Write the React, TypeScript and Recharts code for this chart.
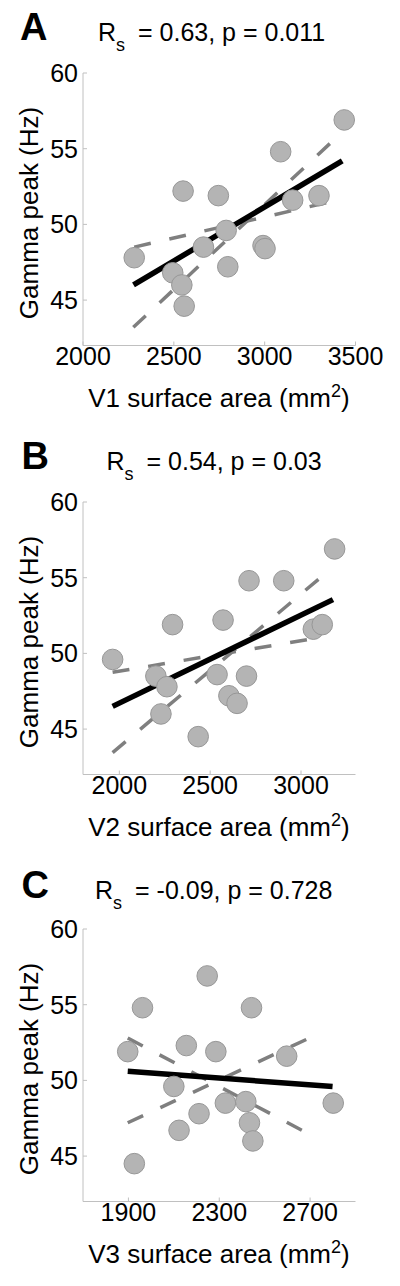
import { ScatterChart, Scatter, XAxis, YAxis } from 'recharts';

const FONT = '"Liberation Sans", Arial, Helvetica, sans-serif';

// gamma peak per participant
const v1Area = [3438, 3088, 2551, 2745, 3154, 3299, 2788, 2663, 2991, 3002, 2282, 2797, 2494, 2544, 2557];
const gammaV1 = [56.9, 54.8, 52.2, 51.9, 51.6, 51.9, 49.6, 48.5, 48.6, 48.4, 47.8, 47.2, 46.8, 46.0, 44.6];

const v2Area = [1963, 2293, 2201, 2262, 2229, 2434, 2571, 2538, 2714, 2905, 2700, 2603, 2648, 3185, 3068, 3117];
const gammaV2 = [49.6, 51.9, 48.5, 47.8, 46.0, 44.5, 52.2, 48.6, 54.8, 54.8, 48.5, 47.2, 46.7, 56.9, 51.6, 51.9];

const v3Area = [1897, 1962, 2247, 2442, 2155, 2285, 2597, 2100, 2327, 2417, 2211, 2123, 2433, 2448, 2802, 1926];
const gammaV3 = [51.9, 54.8, 56.9, 54.8, 52.3, 51.9, 51.6, 49.6, 48.5, 48.6, 47.8, 46.7, 47.2, 46.0, 48.5, 44.5];

// regression line + the two dashed bounds, endpoints [x0, x1] / [y0, y1]
const fitV1X = [2278, 3427];
const fitV1Y = [46.0, 54.2];
const steepV1X = [2277, 3427];
const steepV1Y = [43.2, 56.1];
const flatV1X = [2282, 3420];
const flatV1Y = [48.5, 51.65];

const fitV2X = [1963, 3176];
const fitV2Y = [46.5, 53.55];
const steepV2X = [1963, 3176];
const steepV2Y = [43.45, 55.7];
const flatV2X = [1963, 3080];
const flatV2Y = [48.75, 51.0];

const fitV3X = [1897, 2799];
const fitV3Y = [50.6, 49.6];
const downV3X = [1897, 2727];
const downV3Y = [52.8, 46.2];
const upV3X = [1897, 2747];
const upV3Y = [47.2, 53.15];

const gammaTicks = [45, 50, 55, 60];
const v1Ticks = [2000, 2500, 3000, 3500];
const v2Ticks = [2000, 2500, 3000];
const v3Ticks = [1900, 2300, 2700];

const pts = (xs: number[], ys: number[]) => xs.map((x, i) => ({ x, y: ys[i] }));

const AXIS = '#c0c0c0';
const tickStyle = { fill: '#000', fontSize: 25, fontFamily: FONT };

type PanelProps = {
  top: number;
  letter: string;
  letterX: number;
  rs: string;
  p: string;
  titleX: number;
  titleY: number;
  region: string;
  xs: number[];
  ys: number[];
  xDomain: [number, number];
  xTicks: number[];
  fit: { x: number[]; y: number[] };
  dashA: { x: number[]; y: number[] };
  dashB: { x: number[]; y: number[] };
};

function Panel(props: PanelProps) {
  const { top, letter, letterX, rs, p, titleX, titleY, region, xs, ys, xDomain, xTicks, fit, dashA, dashB } = props;
  return (
    <div style={{ position: 'absolute', left: 0, top, width: 400, height: 428 }}>
      <ScatterChart width={400} height={428} margin={{ top: 73, right: 44.5, bottom: 52.5, left: 23 }}>
        <XAxis
          type="number"
          dataKey="x"
          domain={xDomain}
          ticks={xTicks}
          interval={0}
          allowDataOverflow
          height={30}
          axisLine={{ stroke: AXIS }}
          tickLine={{ stroke: AXIS }}
          tickSize={-4}
          tickMargin={6}
          tick={tickStyle}
        />
        <YAxis
          type="number"
          dataKey="y"
          domain={[42, 60]}
          ticks={gammaTicks}
          interval={0}
          allowDataOverflow
          width={60}
          axisLine={{ stroke: AXIS }}
          tickLine={{ stroke: AXIS }}
          tickSize={-4}
          tickMargin={9}
          tick={tickStyle}
        />
        <Scatter
          data={pts(dashA.x, dashA.y)}
          line={{ stroke: '#7f7f7f', strokeWidth: 3.5, strokeDasharray: '17 19' }}
          shape={() => <g />}
          isAnimationActive={false}
        />
        <Scatter
          data={pts(dashB.x, dashB.y)}
          line={{ stroke: '#7f7f7f', strokeWidth: 3.5, strokeDasharray: '17 19' }}
          shape={() => <g />}
          isAnimationActive={false}
        />
        <Scatter
          data={pts(fit.x, fit.y)}
          line={{ stroke: '#000', strokeWidth: 5.5 }}
          shape={() => <g />}
          isAnimationActive={false}
        />
        <Scatter
          data={pts(xs, ys)}
          shape={(s: any) => (
            <circle cx={s.cx} cy={s.cy} r={10.3} fill="#b4b4b4" stroke="#979797" strokeWidth={1} />
          )}
          isAnimationActive={false}
        />
      </ScatterChart>
      <svg
        width={400}
        height={428}
        style={{ position: 'absolute', left: 0, top: 0, pointerEvents: 'none' }}
        fontFamily={FONT}
      >
        <text x={letterX} y={titleY - 1} fontSize={38} fontWeight="bold">{letter}</text>
        <text x={titleX} y={titleY} fontSize={25}>
          <tspan>R</tspan>
          <tspan dy={10} fontSize={18}>s</tspan>
          <tspan dy={-10} dx={6}>{` = ${rs}, p = ${p}`}</tspan>
        </text>
        <text x={37.5} y={213} fontSize={26} textAnchor="middle" transform="rotate(-90, 37.5, 213)">
          Gamma peak (Hz)
        </text>
        <text x={219} y={407} fontSize={26} textAnchor="middle">
          <tspan>{`${region} surface area (mm`}</tspan>
          <tspan dy={-10} fontSize={18}>2</tspan>
          <tspan dy={10}>)</tspan>
        </text>
      </svg>
    </div>
  );
}

export default function App() {
  return (
    <div style={{ position: 'absolute', left: 0, top: 0, width: 400, height: 1286, background: '#fff' }}>
      <Panel
        top={0}
        letter="A"
        letterX={20}
        rs="0.63"
        p="0.011"
        titleX={98}
        titleY={41}
        region="V1"
        xs={v1Area}
        ys={gammaV1}
        xDomain={[2000, 3500]}
        xTicks={v1Ticks}
        fit={{ x: fitV1X, y: fitV1Y }}
        dashA={{ x: steepV1X, y: steepV1Y }}
        dashB={{ x: flatV1X, y: flatV1Y }}
      />
      <Panel
        top={429}
        letter="B"
        letterX={21.5}
        rs="0.54"
        p="0.03"
        titleX={106.5}
        titleY={41}
        region="V2"
        xs={v2Area}
        ys={gammaV2}
        xDomain={[1800, 3300]}
        xTicks={v2Ticks}
        fit={{ x: fitV2X, y: fitV2Y }}
        dashA={{ x: steepV2X, y: steepV2Y }}
        dashB={{ x: flatV2X, y: flatV2Y }}
      />
      <Panel
        top={856}
        letter="C"
        letterX={21.5}
        rs="-0.09"
        p="0.728"
        titleX={95}
        titleY={43}
        region="V3"
        xs={v3Area}
        ys={gammaV3}
        xDomain={[1700, 2900]}
        xTicks={v3Ticks}
        fit={{ x: fitV3X, y: fitV3Y }}
        dashA={{ x: downV3X, y: downV3Y }}
        dashB={{ x: upV3X, y: upV3Y }}
      />
    </div>
  );
}
